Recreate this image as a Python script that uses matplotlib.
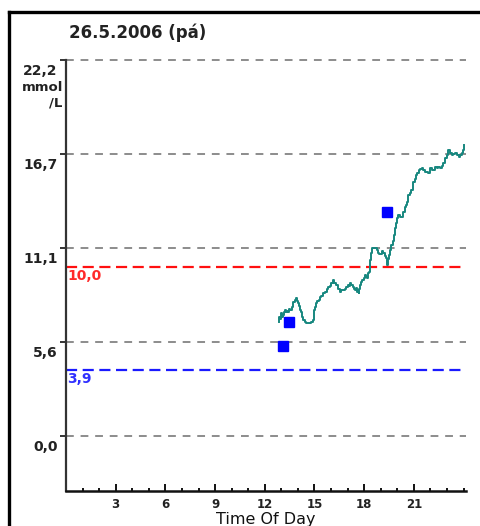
import matplotlib
matplotlib.use("Agg")
import matplotlib.pyplot as plt
from matplotlib.lines import Line2D
from matplotlib.transforms import ScaledTranslation

# Day header and axis texts
title = "26.5.2006 (pá)"
x_label = "Time Of Day"
unit_label = "mmol\n/L"

# Glucose scale (mmol/L)
y_tick_values = [0.0, 5.55, 11.1, 16.65, 22.2]
y_tick_labels = ["0,0", "5,6", "11,1", "16,7", "22,2"]
x_major_ticks = [3, 6, 9, 12, 15, 18, 21]
x_minor_ticks = list(range(0, 25))

# Target range limits
high_limit = 10.0
low_limit = 3.9

# Continuous sensor trace (hour of day, mmol/L)
cgm_time = [12.83, 12.9, 12.95, 13.04, 13.09, 13.14, 13.2, 13.24, 13.3, 13.37,
            13.44, 13.5, 13.58, 13.65, 13.7, 13.75, 13.85, 13.95, 14.0, 14.05,
            14.1, 14.15, 14.2, 14.25, 14.3, 14.35, 14.45, 14.56, 14.66, 14.76,
            14.85, 14.92, 14.97, 15.02, 15.07, 15.12, 15.2, 15.32, 15.4, 15.45,
            15.53, 15.6, 15.73, 15.8, 15.87, 15.95, 16.07, 16.12, 16.17, 16.25,
            16.38, 16.45, 16.58, 16.65, 16.78, 16.85, 16.98, 17.05, 17.1, 17.18,
            17.25, 17.35, 17.4, 17.48, 17.53, 17.62, 17.66, 17.69, 17.74, 17.79,
            17.85, 17.95, 18.02, 18.09, 18.14, 18.19, 18.25, 18.3, 18.35, 18.39,
            18.45, 18.5, 18.6, 18.7, 18.8, 18.88, 18.95, 19.0, 19.1, 19.2,
            19.28, 19.35, 19.4, 19.45, 19.5, 19.6, 19.7, 19.75, 19.8, 19.9,
            19.95, 20.0, 20.1, 20.2, 20.3, 20.4, 20.5, 20.55, 20.6, 20.7,
            20.8, 20.9, 21.0, 21.1, 21.18, 21.25, 21.32, 21.42, 21.53, 21.63,
            21.73, 21.83, 21.93, 22.03, 22.13, 22.23, 22.33, 22.43, 22.53, 22.64,
            22.74, 22.84, 22.94, 23.04, 23.14, 23.24, 23.34, 23.45, 23.55, 23.65,
            23.75, 23.85, 23.95, 24.0, 24.05]
cgm_value = [6.75, 7.0, 6.9, 7.24, 7.05, 7.14, 7.3, 7.44, 7.34, 7.4,
             7.34, 7.5, 7.45, 7.63, 7.75, 7.93, 8.05, 8.13, 7.98, 7.83,
             7.65, 7.44, 7.3, 7.14, 7.0, 6.85, 6.72, 6.65, 6.65, 6.65,
             6.75, 6.85, 7.2, 7.44, 7.6, 7.83, 7.95, 8.03, 8.2, 8.25,
             8.42, 8.45, 8.52, 8.7, 8.81, 8.85, 9.01, 9.1, 9.21, 9.05,
             8.91, 8.7, 8.52, 8.6, 8.62, 8.7, 8.81, 8.9, 8.85, 9.01,
             8.9, 8.81, 8.7, 8.62, 8.75, 8.52, 8.6, 8.42, 8.7, 8.91,
             9.1, 9.21, 9.35, 9.5, 9.4, 9.31, 9.6, 9.7, 9.8, 10.39,
             10.8, 11.1, 11.12, 11.08, 11.0, 10.8, 10.72, 10.75, 10.9, 10.78,
             10.6, 10.5, 10.1, 10.45, 10.68, 11.0, 11.27, 11.5, 11.87, 12.26,
             12.6, 12.85, 13.05, 12.95, 12.95, 13.24, 13.54, 13.65, 13.83, 14.23,
             14.35, 14.52, 15.01, 15.2, 15.41, 15.55, 15.7, 15.75, 15.8, 15.7,
             15.6, 15.58, 15.51, 15.8, 15.72, 15.7, 15.9, 15.85, 15.9, 15.8,
             15.95, 16.1, 16.39, 16.6, 16.88, 16.7, 16.59, 16.65, 16.69, 16.6,
             16.49, 16.6, 16.69, 16.9, 17.18]

# Fingerstick meter readings
meter_time = [13.1, 13.45, 19.4]
meter_value = [5.3, 6.7, 13.25]

W, H = 481, 526
fig = plt.figure(figsize=(W / 100, H / 100), dpi=100)
fig.patch.set_facecolor("white")


def px(x0, y0, x1, y1):
    return [x0 / W, 1 - y1 / H, (x1 - x0) / W, (y1 - y0) / H]


ax = fig.add_axes(px(66, 60, 466, 491))
ax.set_xlim(0, 24.15)
ax.set_ylim(-3.25, 22.2)

for s in ("top", "right"):
    ax.spines[s].set_visible(False)
ax.spines["left"].set_color("#333333")
ax.spines["left"].set_linewidth(1.6)
ax.spines["bottom"].set_color("#111111")
ax.spines["bottom"].set_linewidth(1.8)

# Horizontal reference grid
for v in y_tick_values:
    ax.axhline(v, color="#8c8c8c", lw=1.4, ls=(0, (4, 3.5)), clip_on=False, zorder=1)

# Target limits
ax.axhline(high_limit, color="#ff1010", lw=1.6, ls=(0, (5, 2.5)), zorder=2)
ax.axhline(low_limit, color="#1a1aff", lw=1.6, ls=(0, (5, 2.5)), zorder=2)
ax.annotate(f"{high_limit:.1f}".replace(".", ","), xy=(0, high_limit),
            xycoords=("axes fraction", "data"), xytext=(1, -1.5),
            textcoords="offset points", ha="left", va="top",
            color="#ff2a2a", fontsize=10, fontweight="bold")
ax.annotate(f"{low_limit:.1f}".replace(".", ","), xy=(0, low_limit),
            xycoords=("axes fraction", "data"), xytext=(1, -1.5),
            textcoords="offset points", ha="left", va="top",
            color="#3030ff", fontsize=10, fontweight="bold")

# Sensor trace and meter readings
ax.plot(cgm_time, cgm_value, color="#17877f", lw=1.4, zorder=3,
        drawstyle="steps-mid", clip_on=False)
ax.plot(meter_time, meter_value, ls="none", marker="s", ms=6.5,
        color="#0000ff", mec="#0000ff", zorder=4)

# Y axis ticks and labels
ax.set_yticks(y_tick_values)
ax.set_yticklabels(y_tick_labels)
ax.tick_params(axis="y", direction="out", length=4, width=1.2, color="#111111",
               pad=2, labelsize=10, labelcolor="#222222")
for lab in ax.get_yticklabels():
    lab.set_fontweight("bold")
    lab.set_verticalalignment("top")
    lab.set_transform(lab.get_transform() +
                      ScaledTranslation(0, -3 / 72, fig.dpi_scale_trans))

ax.text(-0.008, 22.2, unit_label,
        transform=ax.get_yaxis_transform() +
        ScaledTranslation(0, -15 / 72, fig.dpi_scale_trans),
        ha="right", va="top", fontsize=9.5, fontweight="bold", color="#222222",
        linespacing=1.25)

# X axis ticks
ax.set_xticks(x_major_ticks)
ax.set_xticks(x_minor_ticks, minor=True)
ax.tick_params(axis="x", which="major", direction="in", length=5, width=1.4,
               color="#111111", labelsize=8.5, labelcolor="#222222", pad=5)
ax.tick_params(axis="x", which="minor", direction="in", length=2.5, width=1.4,
               color="#111111")
for lab in ax.get_xticklabels():
    lab.set_fontweight("bold")
ax.set_xlabel(x_label, fontsize=11.5, color="#111111", labelpad=0.5)

fig.text(69 / W, 1 - 33 / H, title, ha="left", va="center", fontsize=12,
         fontweight="bold", color="#222222")

# Outer panel frame
fig.add_artist(Line2D([9 / W, 9 / W], [0, 1 - 12 / H], color="black", lw=2.4,
                      transform=fig.transFigure))
fig.add_artist(Line2D([9 / W, 1], [1 - 12 / H, 1 - 12 / H], color="black", lw=2.4,
                      transform=fig.transFigure))

fig.savefig("out.png", dpi=100)
